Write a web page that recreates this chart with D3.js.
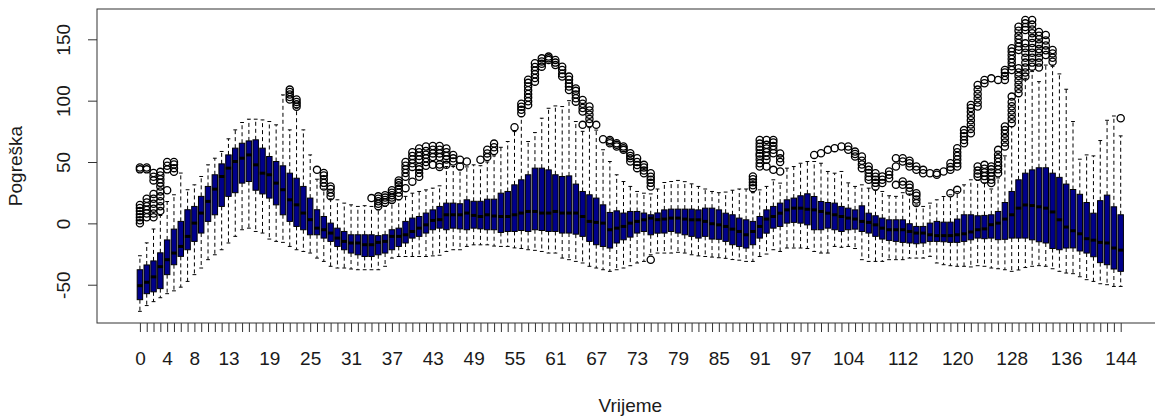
<!DOCTYPE html>
<html>
<head>
<meta charset="utf-8">
<script src="https://cdn.jsdelivr.net/npm/d3@7"></script>
<style>
  body { margin: 0; background: #fff; }
  text { font-family: "Liberation Sans", Arial, sans-serif; fill: #1a1a1a; }
</style>
</head>
<body>
<svg id="chart" width="1155" height="419"></svg>
<script>
// time slots 0..144
var times = [0,1,2,3,4,5,6,7,8,9,10,11,12,13,14,15,16,17,18,19,20,21,22,23,24,25,26,27,28,29,
  30,31,32,33,34,35,36,37,38,39,40,41,42,43,44,45,46,47,48,49,50,51,52,53,54,55,56,57,58,59,
  60,61,62,63,64,65,66,67,68,69,70,71,72,73,74,75,76,77,78,79,80,81,82,83,84,85,86,87,88,89,
  90,91,92,93,94,95,96,97,98,99,100,101,102,103,104,105,106,107,108,109,110,111,112,113,114,
  115,116,117,118,119,120,121,122,123,124,125,126,127,128,129,130,131,132,133,134,135,136,137,
  138,139,140,141,142,143,144];

var lowerWhisker = [-71.7,-67,-63.8,-60.6,-57.3,-55,-52,-47.3,-41.8,-36.4,-29.6,-25.6,-21.5,-16,-10.6,
  -5.2,-3.9,-6.6,-7.9,-12.8,-14.7,-15.5,-18.8,-21.5,-22.9,-24.2,-28.3,-31,-35,-36.4,
  -36.4,-37.2,-37.8,-37.8,-37.8,-37.8,-35,-28.3,-27,-27,-27,-27,-27,-26.5,-26,
  -22.9,-21.5,-21.5,-18.8,-17.5,-17.5,-17.5,-18.5,-18.8,-18.8,-20,-20.5,-21.5,-22,-22.9,
  -24.2,-24.2,-28.3,-29.6,-31,-32.3,-35,-36.4,-37.8,-39.1,-37.8,-36.4,-34.5,-32.3,-31,
  -25.6,-24.2,-24.2,-24.2,-23.6,-24.2,-25.6,-26.5,-27,-27.5,-28,-28.5,-29.5,-30,-31,
  -31,-27,-25,-21.5,-22.9,-20.1,-20.1,-20.1,-20.5,-22.9,-24.2,-24.2,-18.8,-19.5,-18.8,
  -20.5,-29.6,-31,-31,-31,-29.6,-29.6,-29.6,-28.3,-28.3,-28.3,-26.9,-32.3,-33.7,-34.5,
  -35,-35,-35.5,-34.5,-35,-36.4,-37,-37.8,-39.1,-38,-36,-35,-34.5,-35,-37,
  -39.1,-40.5,-41,-43.5,-45.9,-47.3,-49.2,-50,-51.4,-51.4];

var q1 = [-62.2,-57.3,-55.8,-53.2,-41.8,-33.7,-26.9,-21.5,-14.7,-7.9,1.6,7,13.8,22,25,
  32.8,34.1,27,24,20.6,15.1,7,1.6,-2.5,-5.2,-9.3,-9.3,-12,-14.7,-18.8,
  -21.5,-24.2,-25.6,-27,-27,-25.6,-24.2,-21.5,-18.8,-16,-12,-10.6,-7.9,-5.2,-3.9,
  -5.2,-3.9,-4.5,-5.2,-3.9,-4.5,-5.2,-5.2,-7.4,-6.6,-6.6,-5.8,-6.6,-5.2,-5.8,
  -6.6,-6.6,-7.9,-7.9,-8.8,-10.6,-14.7,-17.4,-18.8,-20.1,-16,-13.4,-11.2,-7.9,-6.6,
  -9.3,-8,-7.9,-6.6,-7.9,-9.3,-10.6,-12,-10.6,-12.8,-13,-14.7,-17.4,-18.8,-20.1,
  -17.4,-12,-8,-3.9,-2.5,0.2,0.8,0.2,-1.2,-5.2,-5.2,-3.9,-5.2,-6.6,-5.2,
  -4.7,-6.6,-7.9,-10.6,-12.8,-13.9,-14.7,-15.5,-16,-16.6,-16,-14.7,-14.7,-15,-15.5,
  -15.5,-14.7,-13.4,-12,-12.5,-12,-13.3,-13,-12,-12,-12,-13.4,-15,-16,-20.5,
  -21.5,-20.1,-20,-22.5,-24.2,-27.2,-32,-33.7,-37.2,-39.1];

var median = [-50.8,-48,-43.6,-35.3,-29.6,-24.2,-18.8,-10.6,0.2,8.4,17.9,27.9,38.2,45,50.4,
  53.1,55.8,47.7,40.9,39.6,32.8,27.4,19.2,15.1,8.4,3,-3.9,-5.2,-7.9,-12,
  -14.7,-16,-16,-17.4,-17.4,-15.5,-14.7,-10.6,-10.6,-9.3,-6.6,-3.9,-1.2,2.4,3,
  7,7,7,8.4,6.5,5.6,7,6,5.6,5.6,7,8.4,9.7,9.7,8.4,
  8.4,9.7,8.4,8.4,8.4,5.6,1.6,0.8,0.2,-5.2,-3.9,-2.5,0.2,1.6,2.9,
  4.3,3,3.5,4.3,4.3,3.5,2.9,2.9,1.6,-0.3,-1.2,-2.5,-4.7,-6.6,-9.3,
  -6.6,-2.5,3.5,5.6,8.3,11,12.4,12.4,11.5,11,9.7,8.3,7,5.6,4.3,
  3.5,1.6,0.8,-1.2,-3.9,-5.2,-5.2,-5.2,-6.6,-7.9,-7.9,-9.3,-10,-10,-10,
  -9.3,-8.5,-7,-5.2,-4.5,-1.1,0.2,3.5,7,12.4,15,14.5,13.5,12.4,9.3,
  2.9,-3,-6,-8.5,-12.5,-13.7,-15.5,-16,-20.1,-21.8];

var q3 = [-37.8,-33.9,-30.6,-24,-13.5,-4.7,1.6,11.1,13.8,22,30.1,39.6,48.5,55.8,61.3,
  65.3,67.2,68.1,61.3,54.5,50.4,46.9,40.9,36.8,30.1,20.6,11.1,5.6,0.2,-3.9,
  -6.6,-9.3,-9.3,-9.3,-9.3,-10,-9.3,-5.2,-3.9,1.6,4.3,5.6,8.4,11,13.8,
  16.5,16.5,16,19.2,18,18,19.7,19.7,24.6,26,31.4,35.5,39.6,45,45,
  43.6,39.6,38.2,38.7,32,26,23.3,20.6,15.1,8.9,10.2,8.4,9.7,9.7,8.4,
  7,8.5,11,11.6,11.6,11.6,11.6,11,12.4,12.4,11,8.3,7,4.3,2.9,
  1.6,5.6,11,13.8,16.5,19.2,20.6,22.5,24.1,21.9,17.8,17,16.5,13.8,12.4,
  11,14.3,8.3,6.2,4.3,2.9,2.9,2.9,-0.3,-2.5,-2.5,0.2,1.6,1,1,
  3.5,7,7,6.2,6.5,7,9.7,17,26,35.5,40.9,43.6,45.3,45.3,40.9,
  37.5,32,27.6,23.7,17,8.3,18.5,23,13.5,7];

var upperWhisker = [-26.4,-15.9,-4.6,6.4,17.8,23.3,41,27.4,31.4,38.2,47.7,53.1,58.6,68.9,76.2,
  82.2,84.9,84.9,84.3,83,80.3,104.7,76.2,93.8,76.2,55.8,36,28,20,19.2,
  16.5,15.1,13.8,14.4,13.8,11,13.8,16.5,19.2,22,24.6,26,27.3,28.7,30.6,
  46.3,46.3,43.6,46,47.7,47,50,55,62,66.7,74.8,87,66.7,74,85.7,
  93.8,95.7,95.2,100,83,75,78,76,60,50.4,39.6,34.1,30.1,26,24.6,
  24,28,33.3,34.1,35,34,32.2,30.1,28,26,25,25.5,27,28,28,
  25,27.3,30.1,35.5,32.8,45,46.3,49,50.4,50.4,49,42.3,40.9,42.3,33,
  30.1,31.4,28.7,27,26,22.5,22,25,24,15,13.8,16.5,19.2,21.9,23.3,
  26,31.4,35.5,35,33,28,37,55,78.9,103.3,118.2,123.7,115.5,129,128,
  121.8,109.3,83,52.3,55.8,55,67.5,84,87.5,71.3];

var outliers = [
  [0,2.5,5,7.5,10,12.5,15,44,45.5], [5,8,11,14,17,20,44,45.5], [5,8,12,16,20,24,35,38,41],
  [10,14,18,22,26,30,33,36,39,42], [27,44,47,50], [42,45,48,50],
  [],[],[],[],[],[],[],[],[],[],[],[],[],[],[],[],
  [101,103,105,107,109], [95,97,99,101], [], [], [43.6], [30,33,36,39,41], [22,25,28,30],
  [],[],[],[],[],
  [20.6], [14,16,18,20,22], [17,19,21,23], [19,21,23,25,27], [22,25,28,31,33,35],
  [28.7,38,41,44,47,50], [34,46,49,52,55,58], [38,41,44,46,52,55,58,61], [47,50,53,56,59,62.6],
  [47.7,54,57,60,63], [46,48,54,57,60,63], [47.7,52,55,58,61], [50.4,53,55.8], [46.3,51.8],
  [50.4], [], [51.8], [54,57,60], [59,62,65], [], [], [78.4],
  [89.8,92.5,95,97.5], [96.5,99.5,102.5,105.5,108.5,111.5,114.5,117],
  [115.5,118.5,121.5,124.5,127.5,130.5], [127.7,130,132,134.5], [133.2,134.5,135.9],
  [129,131,133.2], [119.6,122,125,127.7], [108.7,111.5,114,117,119.6], [99.2,102,105,108,110],
  [80.3,91.1,94,97.5,100.6], [81.6,85,88.5,92,95.2], [80.3], [68.6], [65.3,66.7,68],
  [62.6,64,65.3], [59.9,61.3,62.6], [50.4,53,55,57.2], [45,47.5,50,53.1], [40.9,43,45.5,47.7],
  [-29.6,30.1,33,35.5,38,40.9],
  [],[],[],[],[],[],[],[],[],[],[],[],[],[],
  [28.7,31,33.5,36,38.2], [46.3,49,52,55,57,60,62.5,65,68], [46.3,51.8,55,58,61,64,68],
  [43.6,57.2,60,63,66,68], [42.3,50,53,57],
  [],[],[],[],
  [55.8], [57.2], [59.9], [61.3], [62.6], [60,62.6], [54.5,56.5,58.5], [45,48,51,54.5],
  [35.5,38,41,43.6,46.3], [30.1,33,35.5,38,40.9], [32.8,35.5,38.2], [36.8,39.6,42.3],
  [31.4,46.3,53.1], [31.4,34.1,50.4,53.1], [26,29,31.4,46.3,49,51],
  [16.5,19.5,22.5,24.6,43.6,46.3], [40.9,43.6], [40.9], [39.6,41], [42.3],
  [24.6,43.6,46,49], [27.3,46.3,49,52,55,58,61.3], [65.3,68,71,73.5,76],
  [73.5,77,80.5,84,87.5,91,94,96.5],
  [38.2,40.5,43,46.4,95.2,98.5,102,105.5,109,112.8],
  [35.5,38.5,41.5,44.5,47.7,114.2,116.9],
  [32.8,35.5,38.5,41.5,44,46.4,118.2],
  [40.9,44,47,50,53,56,59.9,116.9],
  [62.6,66,69.5,73,76,78.9,116.9,120,123,125],
  [81.6,85,88.5,92,95.5,99,103.3,125,128,131,134,137,140,142.7],
  [106,109.5,113,116.5,120,123,126.4,141.3,144,147,150,153,157,160.3],
  [119.6,123,127,131,135,139,143,146.7,157.6,160,163,165.7],
  [127.7,131,135,139,143,147,151,154.9,158,162,165.7],
  [127,131,135,139,142,146,150,153,156],
  [137.2,141,145,149,153.5],
  [131.8,135,138.5,141.3],
  [],[],[],[],[],[],[],[],[],
  [85.7]
];

var xTickLabels = [0,4,8,13,19,25,31,37,43,49,55,61,67,73,79,85,91,97,104,112,120,128,136,144];
var yTicks = [-50,0,50,100,150];

var svg = d3.select("#chart");

// plot region (right edge runs past the picture, as in the original)
var plotLeft = 97, plotRight = 1163.6, plotTop = 9, plotBottom = 323;

var x = d3.scaleLinear()
    .domain([-6.3, 150.3])
    .range([plotLeft, plotRight]);

var y = d3.scaleLinear()
    .domain([-81.2, 174.7])
    .range([plotBottom, plotTop]);

var step = x(1) - x(0);
var bw = step * 0.8;

var boxes = times.map(function(t, i){
    return {t: t, lw: lowerWhisker[i], q1: q1[i], med: median[i], q3: q3[i], uw: upperWhisker[i], out: outliers[i]};
});

var g = svg.append("g");

var bx = g.selectAll("g.box")
    .data(boxes)
    .enter()
    .append("g")
    .attr("class", "box");

// whiskers
bx.append("line")
    .attr("x1", function(d){ return x(d.t); })
    .attr("x2", function(d){ return x(d.t); })
    .attr("y1", function(d){ return y(d.q3); })
    .attr("y2", function(d){ return y(d.uw); })
    .attr("stroke", "#000")
    .attr("stroke-dasharray", "4,3");
bx.append("line")
    .attr("x1", function(d){ return x(d.t); })
    .attr("x2", function(d){ return x(d.t); })
    .attr("y1", function(d){ return y(d.q1); })
    .attr("y2", function(d){ return y(d.lw); })
    .attr("stroke", "#000")
    .attr("stroke-dasharray", "4,3");

// staples
bx.selectAll("line.staple")
    .data(function(d){ return [{t: d.t, v: d.uw}, {t: d.t, v: d.lw}]; })
    .enter()
    .append("line")
    .attr("class", "staple")
    .attr("x1", function(d){ return x(d.t) - bw * 0.35; })
    .attr("x2", function(d){ return x(d.t) + bw * 0.35; })
    .attr("y1", function(d){ return y(d.v); })
    .attr("y2", function(d){ return y(d.v); })
    .attr("stroke", "#000");

// boxes
bx.append("rect")
    .attr("x", function(d){ return x(d.t) - bw / 2; })
    .attr("y", function(d){ return y(d.q3); })
    .attr("width", bw)
    .attr("height", function(d){ return y(d.q1) - y(d.q3); })
    .attr("fill", "#00008B")
    .attr("stroke", "#000");

// medians
bx.append("line")
    .attr("x1", function(d){ return x(d.t) - bw / 2; })
    .attr("x2", function(d){ return x(d.t) + bw / 2; })
    .attr("y1", function(d){ return y(d.med); })
    .attr("y2", function(d){ return y(d.med); })
    .attr("stroke", "#000")
    .attr("stroke-width", 3);

// outliers
bx.selectAll("circle")
    .data(function(d){ return d.out.map(function(v){ return {t: d.t, v: v}; }); })
    .enter()
    .append("circle")
    .attr("cx", function(d){ return x(d.t); })
    .attr("cy", function(d){ return y(d.v); })
    .attr("r", 3.6)
    .attr("fill", "none")
    .attr("stroke", "#000")
    .attr("stroke-width", 1.3);

// frame
svg.append("rect")
    .attr("x", plotLeft)
    .attr("y", plotTop)
    .attr("width", plotRight - plotLeft)
    .attr("height", plotBottom - plotTop)
    .attr("fill", "none")
    .attr("stroke", "#333");

// x axis: a tick for every slot, labels only where R printed them
var xAxis = d3.axisBottom(x)
    .tickValues(times)
    .tickSize(9)
    .tickFormat(function(d){ return xTickLabels.indexOf(d) >= 0 ? String(d) : ""; });
var gx = svg.append("g")
    .attr("transform", "translate(0," + plotBottom + ")")
    .call(xAxis);
gx.select(".domain").remove();
gx.selectAll(".tick line").attr("stroke", "#333");
gx.selectAll(".tick text")
    .attr("y", 42)
    .attr("dy", 0)
    .style("font-size", "19px")
    .style("font-family", "'Liberation Sans', Arial, sans-serif")
    .attr("fill", "#1a1a1a");

// y axis (plain hyphen for negatives, like R)
var yAxis = d3.axisLeft(y)
    .tickValues(yTicks)
    .tickSize(9)
    .tickFormat(function(d){ return String(d); });
var gy = svg.append("g")
    .attr("transform", "translate(" + plotLeft + ",0)")
    .call(yAxis);
gy.select(".domain").remove();
gy.selectAll(".tick line").attr("stroke", "#333");
gy.selectAll(".tick text")
    .attr("x", 0)
    .attr("dy", 0)
    .attr("text-anchor", "middle")
    .attr("transform", "translate(-27,0) rotate(-90)")
    .style("font-size", "19px")
    .style("font-family", "'Liberation Sans', Arial, sans-serif")
    .attr("fill", "#1a1a1a");

// axis titles
svg.append("text")
    .attr("transform", "translate(22," + ((plotTop + plotBottom) / 2) + ") rotate(-90)")
    .attr("text-anchor", "middle")
    .style("font-size", "19px")
    .text("Pogreška");

svg.append("text")
    .attr("x", (plotLeft + plotRight) / 2)
    .attr("y", 412)
    .attr("text-anchor", "middle")
    .style("font-size", "19px")
    .text("Vrijeme");
</script>
</body>
</html>
